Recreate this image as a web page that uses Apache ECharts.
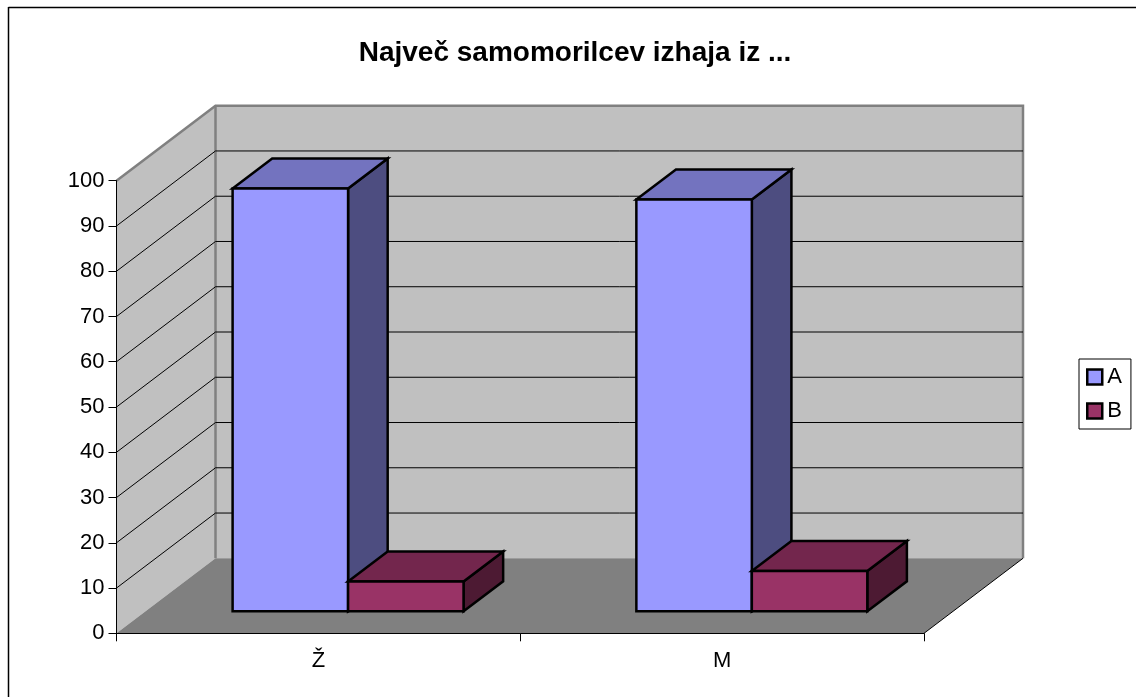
<!DOCTYPE html>
<html><head><meta charset="utf-8">
<style>html,body{margin:0;padding:0;background:#fff}#c{width:1136px;height:697px}</style>
<script src="https://cdn.jsdelivr.net/npm/echarts@6/dist/echarts.min.js"></script>
</head><body><div id="c"></div>
<script>
const titleText = 'Največ samomorilcev izhaja iz ...';
const categories = ['Ž', 'M'];
const seriesNames = ['A', 'B'];
const valuesA = [93.4, 91.0];
const valuesB = [6.6, 8.9];
const gridTicks = [10, 20, 30, 40, 50, 60, 70, 80, 90];

const FONT = '"Liberation Sans", Arial, sans-serif';
const DX = 99, DY = -75;            // full depth of the 3D box
const D0 = 0.3, D1 = 0.7;           // bar's depth span as fraction of the box
const BAR = 0.286;                  // bar width as fraction of category band

function wallsItem(params, api) {
  const r = params.coordSys;
  const l = r.x, t = r.y, w = r.width, h = r.height, b = t + h, ri = l + w;
  const wall = {fill: '#C0C0C0'};
  return {type: 'group', silent: true, children: [
    {type: 'polygon', shape: {points: [[l + DX, t + DY], [ri + DX, t + DY], [ri + DX, b + DY], [l + DX, b + DY]]}, style: wall},
    {type: 'polygon', shape: {points: [[l, t], [l + DX, t + DY], [l + DX, b + DY], [l, b]]}, style: wall},
    {type: 'polygon', shape: {points: [[l, b], [ri, b], [ri + DX, b + DY], [l + DX, b + DY]]}, style: {fill: '#808080'}},
    {type: 'polyline', shape: {points: [[l, t], [l + DX, t + DY], [ri + DX, t + DY], [ri + DX, b + DY]]},
      style: {fill: null, stroke: '#808080', lineWidth: 2.5}},
    {type: 'line', shape: {x1: l + DX, y1: t + DY, x2: l + DX, y2: b + DY}, style: {stroke: '#808080', lineWidth: 2.5}},
    {type: 'line', shape: {x1: ri, y1: b, x2: ri + DX, y2: b + DY}, style: {stroke: '#000', lineWidth: 1}}
  ]};
}
function gridItem(params, api) {
  const r = params.coordSys;
  const y = api.coord([0, api.value(0)])[1];
  return {type: 'polyline', silent: true, shape: {points: [[r.x, y], [r.x + DX, y + DY], [r.x + r.width + DX, y + DY]]},
    style: {fill: null, stroke: '#000', lineWidth: 1}};
}
function barItem(seriesIndex, front, top, side) {
  return function (params, api) {
    const i = api.value(0), v = api.value(1);
    const band = api.size([1, 0])[0];
    const c = api.coord([i, 0]), tp = api.coord([i, v]);
    const bw = band * BAR;
    const x0 = c[0] + DX * D0 + (seriesIndex - 1) * bw;
    const x1 = x0 + bw;
    const yb = c[1] + DY * D0 + 0.5, yt = tp[1] + DY * D0 + 0.5;
    const ddx = DX * (D1 - D0), ddy = DY * (D1 - D0);
    const stroke = {stroke: '#000', lineWidth: 2.5, lineJoin: 'miter'};
    return {type: 'group', children: [
      {type: 'polygon', shape: {points: [[x1, yb], [x1 + ddx, yb + ddy], [x1 + ddx, yt + ddy], [x1, yt]]}, style: {fill: side, ...stroke}},
      {type: 'polygon', shape: {points: [[x0, yt], [x1, yt], [x1 + ddx, yt + ddy], [x0 + ddx, yt + ddy]]}, style: {fill: top, ...stroke}},
      {type: 'polygon', shape: {points: [[x0, yb], [x1, yb], [x1, yt], [x0, yt]]}, style: {fill: front, ...stroke}}
    ]};
  };
}
const chart = echarts.init(document.getElementById('c'), null, {renderer: 'canvas'});
chart.setOption({
  animation: false,
  backgroundColor: '#fff',
  textStyle: {fontFamily: FONT},
  title: {text: titleText, left: 570, top: 34, textAlign: 'center',
    textStyle: {fontFamily: FONT, fontSize: 28, fontWeight: 'bold', color: '#000'}},
  grid: {left: 116.5, right: 212, top: 180.7, bottom: 63.7},
  xAxis: {type: 'category', data: categories, z: 5,
    axisLine: {show: true, onZero: false, lineStyle: {color: '#000', width: 1}},
    axisTick: {show: true, alignWithLabel: false, interval: 0, length: 8, lineStyle: {color: '#000', width: 1}},
    axisLabel: {color: '#000', fontSize: 22, margin: 17, fontFamily: FONT},
    splitLine: {show: false}},
  yAxis: {type: 'value', min: 0, max: 100, interval: 10, z: 5,
    axisLine: {show: true, lineStyle: {color: '#000', width: 1}},
    axisTick: {show: true, length: 8, lineStyle: {color: '#000'}},
    axisLabel: {color: '#000', fontSize: 22, margin: 12, fontFamily: FONT},
    splitLine: {show: false}},
  legend: {left: 1079, top: 359, orient: 'vertical', itemWidth: 15, itemHeight: 15, itemGap: 12,
    padding: [7, 9, 7, 7], borderColor: '#000', borderWidth: 1, backgroundColor: '#fff', icon: 'rect',
    data: seriesNames,
    textStyle: {color: '#000', fontSize: 22, fontFamily: FONT},
    itemStyle: {borderColor: '#000', borderWidth: 2.5}},
  graphic: [
    {type: 'line', silent: true, shape: {x1: 8.5, y1: 7.5, x2: 1136, y2: 7.5}, style: {stroke: '#000', lineWidth: 1.5}},
    {type: 'line', silent: true, shape: {x1: 8.5, y1: 7, x2: 8.5, y2: 697}, style: {stroke: '#000', lineWidth: 1.5}}
  ],
  series: [
    {type: 'custom', name: '_walls', z: 1, data: [[0]], renderItem: wallsItem, silent: true, tooltip: {show: false}},
    {type: 'custom', name: '_grid', z: 1.5, data: gridTicks.map(t => [t]), renderItem: gridItem, silent: true, encode: {y: 0}},
    {type: 'custom', name: seriesNames[0], z: 3, itemStyle: {color: '#9999FF'},
      data: valuesA.map((v, i) => [i, v]), encode: {x: 0, y: 1},
      renderItem: barItem(0, '#9999FF', '#7373BF', '#4D4D80')},
    {type: 'custom', name: seriesNames[1], z: 3, itemStyle: {color: '#993366'},
      data: valuesB.map((v, i) => [i, v]), encode: {x: 0, y: 1},
      renderItem: barItem(1, '#993366', '#73264D', '#4D1A33')}
  ]
});
</script></body></html>
